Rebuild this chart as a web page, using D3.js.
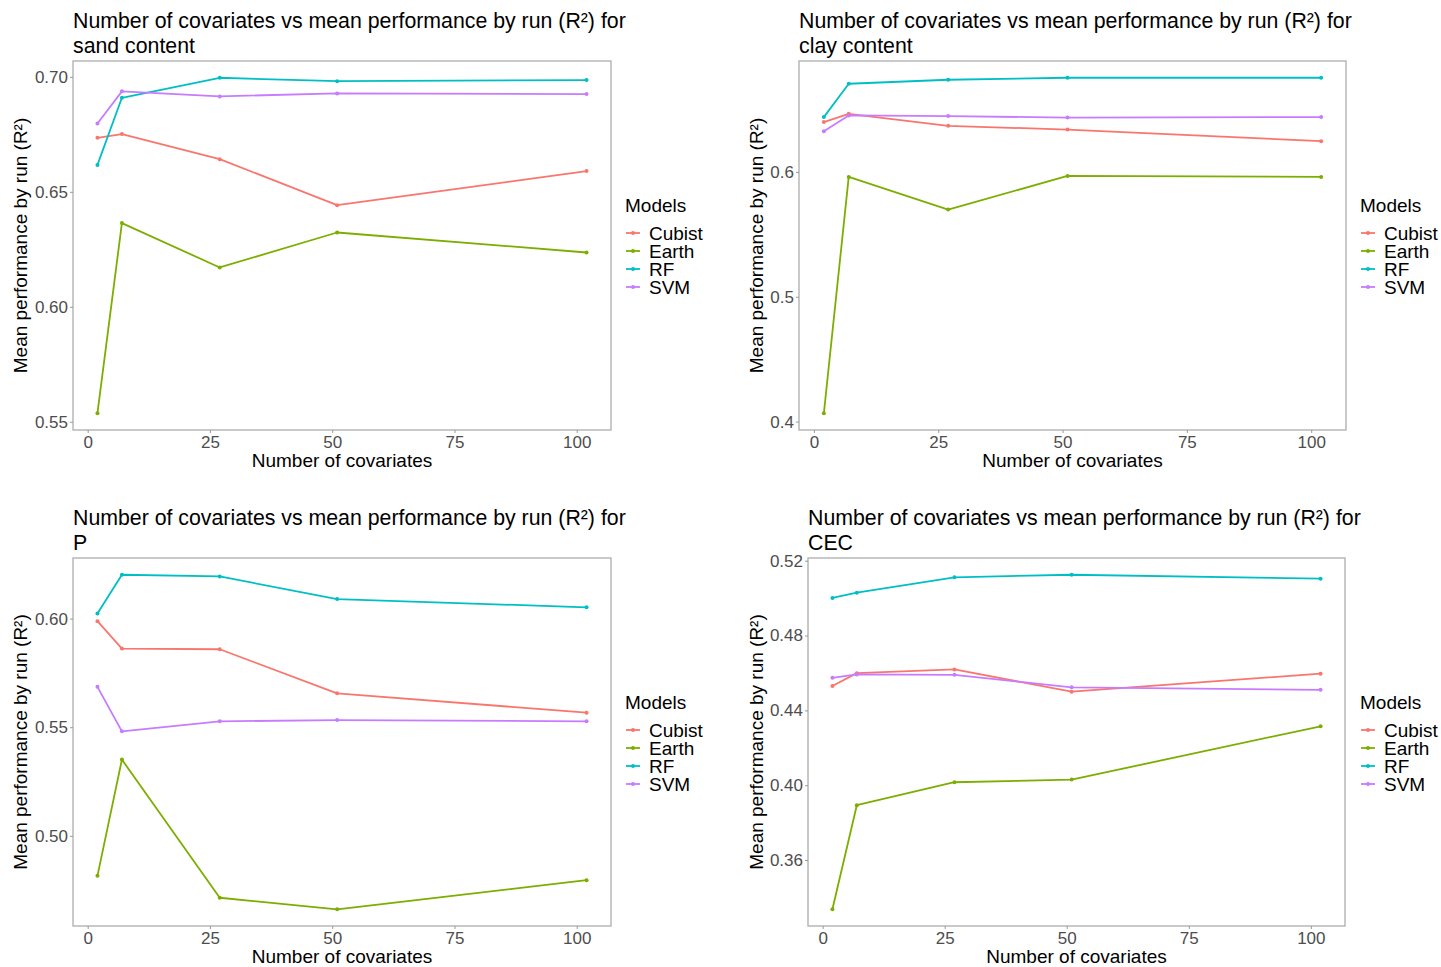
<!DOCTYPE html>
<html>
<head>
<meta charset="utf-8">
<script src="https://cdn.jsdelivr.net/npm/d3@7"></script>
<style>
  html, body { margin: 0; padding: 0; background: #fff; }
  svg { display: block; font-family: "Liberation Sans", Arial, sans-serif; }
</style>
</head>
<body>
<svg id="chart" width="1441" height="967"></svg>
<script>
// ---- Data ----
const covariates = [2, 7, 27, 51, 102];
const models = ["Cubist", "Earth", "RF", "SVM"];
const modelColors = ["#F8766D", "#7CAE00", "#00BFC4", "#C77CFF"];
const xTicks = [0, 25, 50, 75, 100];

const sandCubist = [0.6735, 0.6751, 0.6642, 0.6442, 0.6590];
const sandEarth  = [0.5537, 0.6364, 0.6171, 0.6323, 0.6236];
const sandRF     = [0.6617, 0.6909, 0.6996, 0.6981, 0.6986];
const sandSVM    = [0.6797, 0.6937, 0.6915, 0.6928, 0.6925];
const sandTicks  = [0.55, 0.60, 0.65, 0.70];

const clayCubist = [0.6399, 0.6465, 0.6369, 0.6339, 0.6246];
const clayEarth  = [0.4067, 0.5960, 0.5698, 0.5968, 0.5960];
const clayRF     = [0.6439, 0.6706, 0.6738, 0.6754, 0.6754];
const claySVM    = [0.6326, 0.6452, 0.6447, 0.6435, 0.6439];
const clayTicks  = [0.4, 0.5, 0.6];

const pCubist = [0.5988, 0.5862, 0.5859, 0.5656, 0.5567];
const pEarth  = [0.4816, 0.5351, 0.4715, 0.4662, 0.4796];
const pRF     = [0.6024, 0.6202, 0.6194, 0.6090, 0.6052];
const pSVM    = [0.5686, 0.5481, 0.5527, 0.5533, 0.5527];
const pTicks  = [0.50, 0.55, 0.60];

const cecCubist = [0.4530, 0.4599, 0.4619, 0.4500, 0.4596];
const cecEarth  = [0.3337, 0.3893, 0.4016, 0.4030, 0.4315];
const cecRF     = [0.5001, 0.5029, 0.5111, 0.5125, 0.5104];
const cecSVM    = [0.4574, 0.4592, 0.4590, 0.4523, 0.4510];
const cecTicks  = [0.36, 0.40, 0.44, 0.48, 0.52];

const titleLine1 = "Number of covariates vs mean performance by run (R²) for";
const targets = ["sand content", "clay content", "P", "CEC"];
const xLabel = "Number of covariates";
const yLabel = "Mean performance by run (R²)";
const legendTitle = "Models";

// ---- Layout ----
const panels = [
  { target: targets[0], series: [sandCubist, sandEarth, sandRF, sandSVM], ticks: sandTicks, fmt: ".2f",
    x0: 73, x1: 611, y0: 61, y1: 430, legendX: 625, yTitleX: 20 },
  { target: targets[1], series: [clayCubist, clayEarth, clayRF, claySVM], ticks: clayTicks, fmt: ".1f",
    x0: 799, x1: 1346, y0: 61, y1: 430, legendX: 1360, yTitleX: 756 },
  { target: targets[2], series: [pCubist, pEarth, pRF, pSVM], ticks: pTicks, fmt: ".2f",
    x0: 73, x1: 611, y0: 558, y1: 926, legendX: 625, yTitleX: 20 },
  { target: targets[3], series: [cecCubist, cecEarth, cecRF, cecSVM], ticks: cecTicks, fmt: ".2f",
    x0: 808, x1: 1345, y0: 558, y1: 926, legendX: 1360, yTitleX: 756 }
];

const svg = d3.select("#chart");
const color = d3.scaleOrdinal().domain(models).range(modelColors);

function expand(ext) {
  const r = ext[1] - ext[0];
  return [ext[0] - 0.05 * r, ext[1] + 0.05 * r];
}

panels.forEach(p => {
  const g = svg.append("g");
  const xExt = d3.extent(covariates);
  const x = d3.scaleLinear().domain(expand(xExt)).range([p.x0, p.x1]);
  const allVals = p.series.flat();
  const y = d3.scaleLinear().domain(expand(d3.extent(allVals))).range([p.y1, p.y0]);

  // Title
  const t = g.append("text").attr("x", p.x0).attr("y", p.y0 - 33)
    .attr("font-size", 21.3).attr("fill", "#000");
  t.append("tspan").attr("x", p.x0).text(titleLine1);
  t.append("tspan").attr("x", p.x0).attr("dy", 25).text(p.target);

  // Panel border
  g.append("rect").attr("x", p.x0).attr("y", p.y0)
    .attr("width", p.x1 - p.x0).attr("height", p.y1 - p.y0)
    .attr("fill", "none").attr("stroke", "#b3b3b3").attr("stroke-width", 1.4);

  // Axes
  const xAxis = d3.axisBottom(x).tickValues(xTicks).tickSize(3).tickPadding(3);
  const gx = g.append("g").attr("transform", `translate(0,${p.y1})`).call(xAxis);
  const yAxis = d3.axisLeft(y).tickValues(p.ticks).tickFormat(d3.format(p.fmt)).tickSize(3).tickPadding(2);
  const gy = g.append("g").attr("transform", `translate(${p.x0},0)`).call(yAxis);
  [gx, gy].forEach(a => {
    a.select(".domain").remove();
    a.selectAll(".tick line").attr("stroke", "#999").attr("stroke-width", 1);
    a.selectAll(".tick text").attr("fill", "#4d4d4d").attr("font-size", 17)
      .attr("font-family", "'Liberation Sans', Arial, sans-serif");
  });

  // Axis titles
  g.append("text").attr("x", (p.x0 + p.x1) / 2).attr("y", p.y1 + 37)
    .attr("text-anchor", "middle").attr("font-size", 19).attr("fill", "#000").text(xLabel);
  g.append("text")
    .attr("transform", `translate(${p.yTitleX + 7},${(p.y0 + p.y1) / 2}) rotate(-90)`)
    .attr("text-anchor", "middle").attr("font-size", 19).attr("fill", "#000").text(yLabel);

  // Lines and points
  const line = d3.line().x((d, i) => x(covariates[i])).y(d => y(d));
  models.forEach((m, k) => {
    const vals = p.series[k];
    g.append("path").datum(vals).attr("d", line)
      .attr("fill", "none").attr("stroke", color(m)).attr("stroke-width", 1.8)
      .attr("stroke-linejoin", "round");
    g.selectAll(null).data(vals).enter().append("circle")
      .attr("cx", (d, i) => x(covariates[i])).attr("cy", d => y(d))
      .attr("r", 2).attr("fill", color(m));
  });

  // Legend
  const ly = p.y0 + 151;
  g.append("text").attr("x", p.legendX).attr("y", ly).attr("font-size", 19)
    .attr("fill", "#000").text(legendTitle);
  models.forEach((m, k) => {
    const cy = ly + 21 + k * 18;
    g.append("line").attr("x1", p.legendX + 1).attr("x2", p.legendX + 15)
      .attr("y1", cy).attr("y2", cy).attr("stroke", color(m)).attr("stroke-width", 1.8);
    g.append("circle").attr("cx", p.legendX + 8).attr("cy", cy).attr("r", 2).attr("fill", color(m));
    g.append("text").attr("x", p.legendX + 24).attr("y", cy + 7).attr("font-size", 19)
      .attr("fill", "#000").text(m);
  });
});
</script>
</body>
</html>
